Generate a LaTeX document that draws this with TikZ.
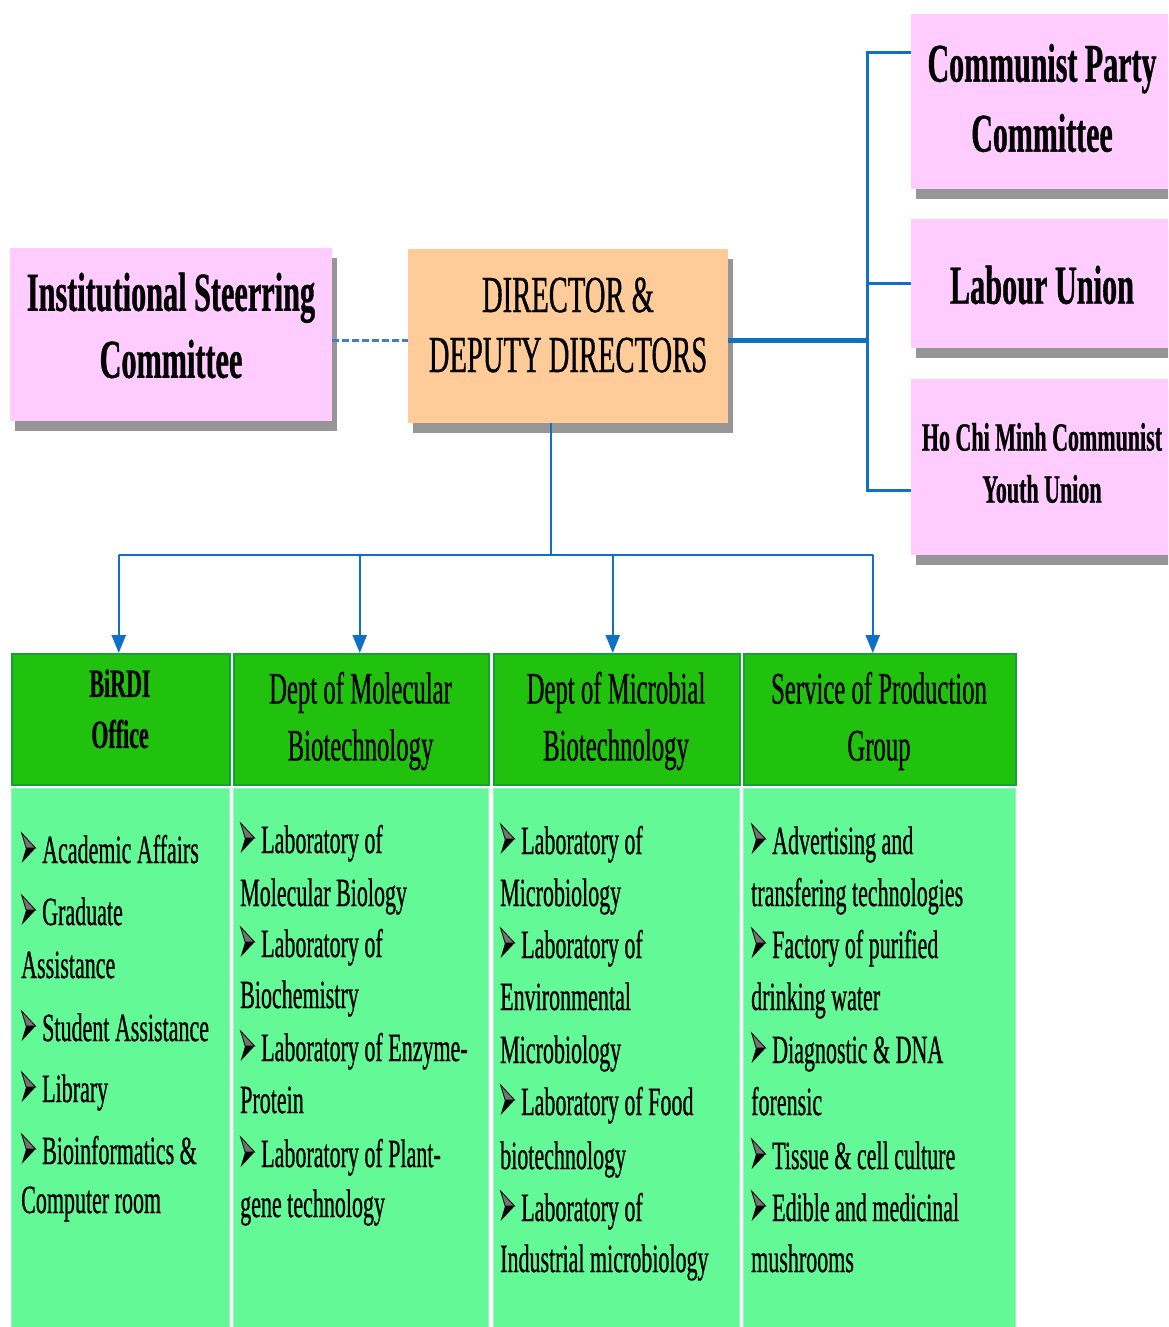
\documentclass[tikz,border=0pt]{standalone}
\usepackage{fontspec}
\usetikzlibrary{arrows.meta,shadows,calc}
\newfontfamily\cf{Liberation Serif}[FakeStretch=0.55,FakeBold=0.6]
\definecolor{pinkbox}{RGB}{255,204,255}
\definecolor{orangebox}{RGB}{255,204,153}
\definecolor{shadowc}{RGB}{150,150,150}
\definecolor{hdrgreen}{RGB}{32,194,14}
\definecolor{hdrborder}{RGB}{22,160,60}
\definecolor{bodygreen}{RGB}{99,249,150}
\definecolor{bodyborder}{RGB}{150,245,185}
\definecolor{linkblue}{RGB}{16,112,196}
\definecolor{dashblue}{RGB}{70,125,190}
\newcommand\bul{\makebox[21pt][l]{\tikz[baseline=0pt,x=1pt,y=1pt]{%
  \fill[black] (1,0) -- (15,15) -- (5.5,15) -- cycle;
  \fill[black!55, draw=black, line width=0.8pt, line join=miter] (1,30) -- (15,15) -- (5.5,15) -- cycle;}}}
\begin{document}
\begin{tikzpicture}[x=1pt,y=-1pt]
\tikzset{
 topbox/.style={rectangle, inner sep=0pt, anchor=north west,
   drop shadow={shadow xshift=5pt, shadow yshift=-10pt, opacity=1, fill=shadowc}},
 hdr/.style={rectangle, inner sep=0pt, anchor=north west, fill=hdrgreen,
   draw=hdrborder, line width=1.5pt, minimum height=131pt},
 bodycol/.style={rectangle, inner sep=0pt, anchor=north west, fill=bodygreen,
   draw=bodyborder, line width=1pt, minimum height=560pt},
 lbl/.style={align=center, inner sep=0pt},
 bodytxt/.style={font=\cf\fontsize{40}{51}\selectfont, anchor=base west, inner sep=0pt},
 link/.style={draw=linkblue, line width=2.5pt},
 arr/.style={link, -{Triangle[width=14pt,length=18pt]}},
}
\useasboundingbox (0,0) rectangle (1168,1327);
\clip (0,0) rectangle (1168,1327);

% top boxes
\node[topbox, fill=pinkbox, minimum width=322pt, minimum height=173pt] (inst) at (10,248) {};
\node[lbl, font=\cf\bfseries\fontsize{55}{67}\selectfont] (instT) at (171,325.5) {Institutional Steerring\\Committee};
\node[topbox, fill=orangebox, minimum width=320pt, minimum height=174pt] (dir) at (408,249) {};
\node[lbl, font=\cf\fontsize{52}{60}\selectfont] (dirT) at (568,325) {DIRECTOR \&\\DEPUTY DIRECTORS};
\node[topbox, fill=pinkbox, minimum width=262pt, minimum height=175pt] (cp) at (911,14) {};
\node[lbl, font=\cf\bfseries\fontsize{54.5}{70}\selectfont] (cpT) at (1042,98) {Communist Party\\Committee};
\node[topbox, fill=pinkbox, minimum width=262pt, minimum height=129pt] (lu) at (911,219) {};
\node[lbl, font=\cf\bfseries\fontsize{55}{66}\selectfont] (luT) at (1042,285) {Labour Union};
\node[topbox, fill=pinkbox, minimum width=262pt, minimum height=176pt] (yu) at (911,379) {};
\node[lbl, font=\cf\bfseries\fontsize{40}{52}\selectfont] (yuT) at (1042,463) {Ho Chi Minh Communist\\Youth Union};

% headers
\node[hdr, minimum width=218pt] (h1) at (11,653) {};
\node[hdr, minimum width=255pt] (h2) at (233,653) {};
\node[hdr, minimum width=246pt] (h3) at (493,653) {};
\node[hdr, minimum width=272pt] (h4) at (743,653) {};
\node[lbl, font=\cf\bfseries\fontsize{40}{51}\selectfont] (h1T) at (120,708.7) {BiRDI\\Office};
\node[lbl, font=\cf\fontsize{45}{57}\selectfont] (h2T) at (360.5,721) {Dept of Molecular\\Biotechnology};
\node[lbl, font=\cf\fontsize{45}{57}\selectfont] (h3T) at (616,721) {Dept of Microbial\\Biotechnology};
\node[lbl, font=\cf\fontsize{45}{57}\selectfont] (h4T) at (879,721) {Service of Production\\Group};

% body columns
\node[bodycol, minimum width=218pt] (b1) at (11,788) {};
\node[bodycol, minimum width=255pt] (b2) at (233,788) {};
\node[bodycol, minimum width=246pt] (b3) at (493,788) {};
\node[bodycol, minimum width=272pt] (b4) at (743,788) {};

\foreach \yy/\xx/\tx [count=\i] in {
 863/21/\bul Academic Affairs,
 925/21/\bul Graduate,
 978/21/Assistance,
 1041/21/\bul Student Assistance,
 1102/21/\bul Library,
 1164/21/\bul Bioinformatics \&,
 1213/21/Computer room,
 853/240/\bul Laboratory of,
 906/240/Molecular Biology,
 957/240/\bul Laboratory of,
 1008/240/Biochemistry,
 1061/240/\bul Laboratory of Enzyme-,
 1113/240/Protein,
 1167/240/\bul Laboratory of Plant-,
 1217/240/gene technology,
 854/500/\bul Laboratory of,
 906/500/Microbiology,
 958/500/\bul Laboratory of,
 1010/500/Environmental,
 1063/500/Microbiology,
 1115/500/\bul Laboratory of Food,
 1169/500/biotechnology,
 1221/500/\bul Laboratory of,
 1272/500/Industrial microbiology,
 854/751/\bul Advertising and,
 906/751/transfering technologies,
 958/751/\bul Factory of purified,
 1010/751/drinking water,
 1063/751/\bul Diagnostic \& DNA,
 1115/751/forensic,
 1169/751/\bul Tissue \& cell culture,
 1221/751/\bul Edible and medicinal,
 1272/751/mushrooms}
 {\node[bodytxt] (t\i) at (\xx,\yy) {\tx};}

% connectors
\coordinate (dl) at ($(inst.east)+(0,6)$);
\draw[dashblue, line width=3pt, dash pattern=on 7pt off 3pt] (dl) -- (dl -| dir.west);
\coordinate (j) at (867,340);
\draw[link, line width=5pt] (j -| dir.east) -- (j);
\draw[link, line width=3pt] ([yshift=49.5pt]cp.west) -| (j) |- ([yshift=-23pt]yu.west);
\draw[link, line width=3pt] (lu.west) -- (lu.west -| j);
\coordinate (bus) at (551,555);
\draw[link] (bus |- dir.south) -- (bus);
\coordinate (a1) at ($(h1.north)+(-2,0)$);
\coordinate (a2) at ($(h2.north)+(-1.5,0)$);
\coordinate (a3) at ($(h3.north)+(-4,0)$);
\coordinate (a4) at ($(h4.north)+(-7,0)$);
\draw[link] (a1 |- bus) -- (a4 |- bus);
\foreach \k in {1,2,3,4} \draw[arr] (a\k |- bus) -- (a\k);
\end{tikzpicture}
\end{document}
